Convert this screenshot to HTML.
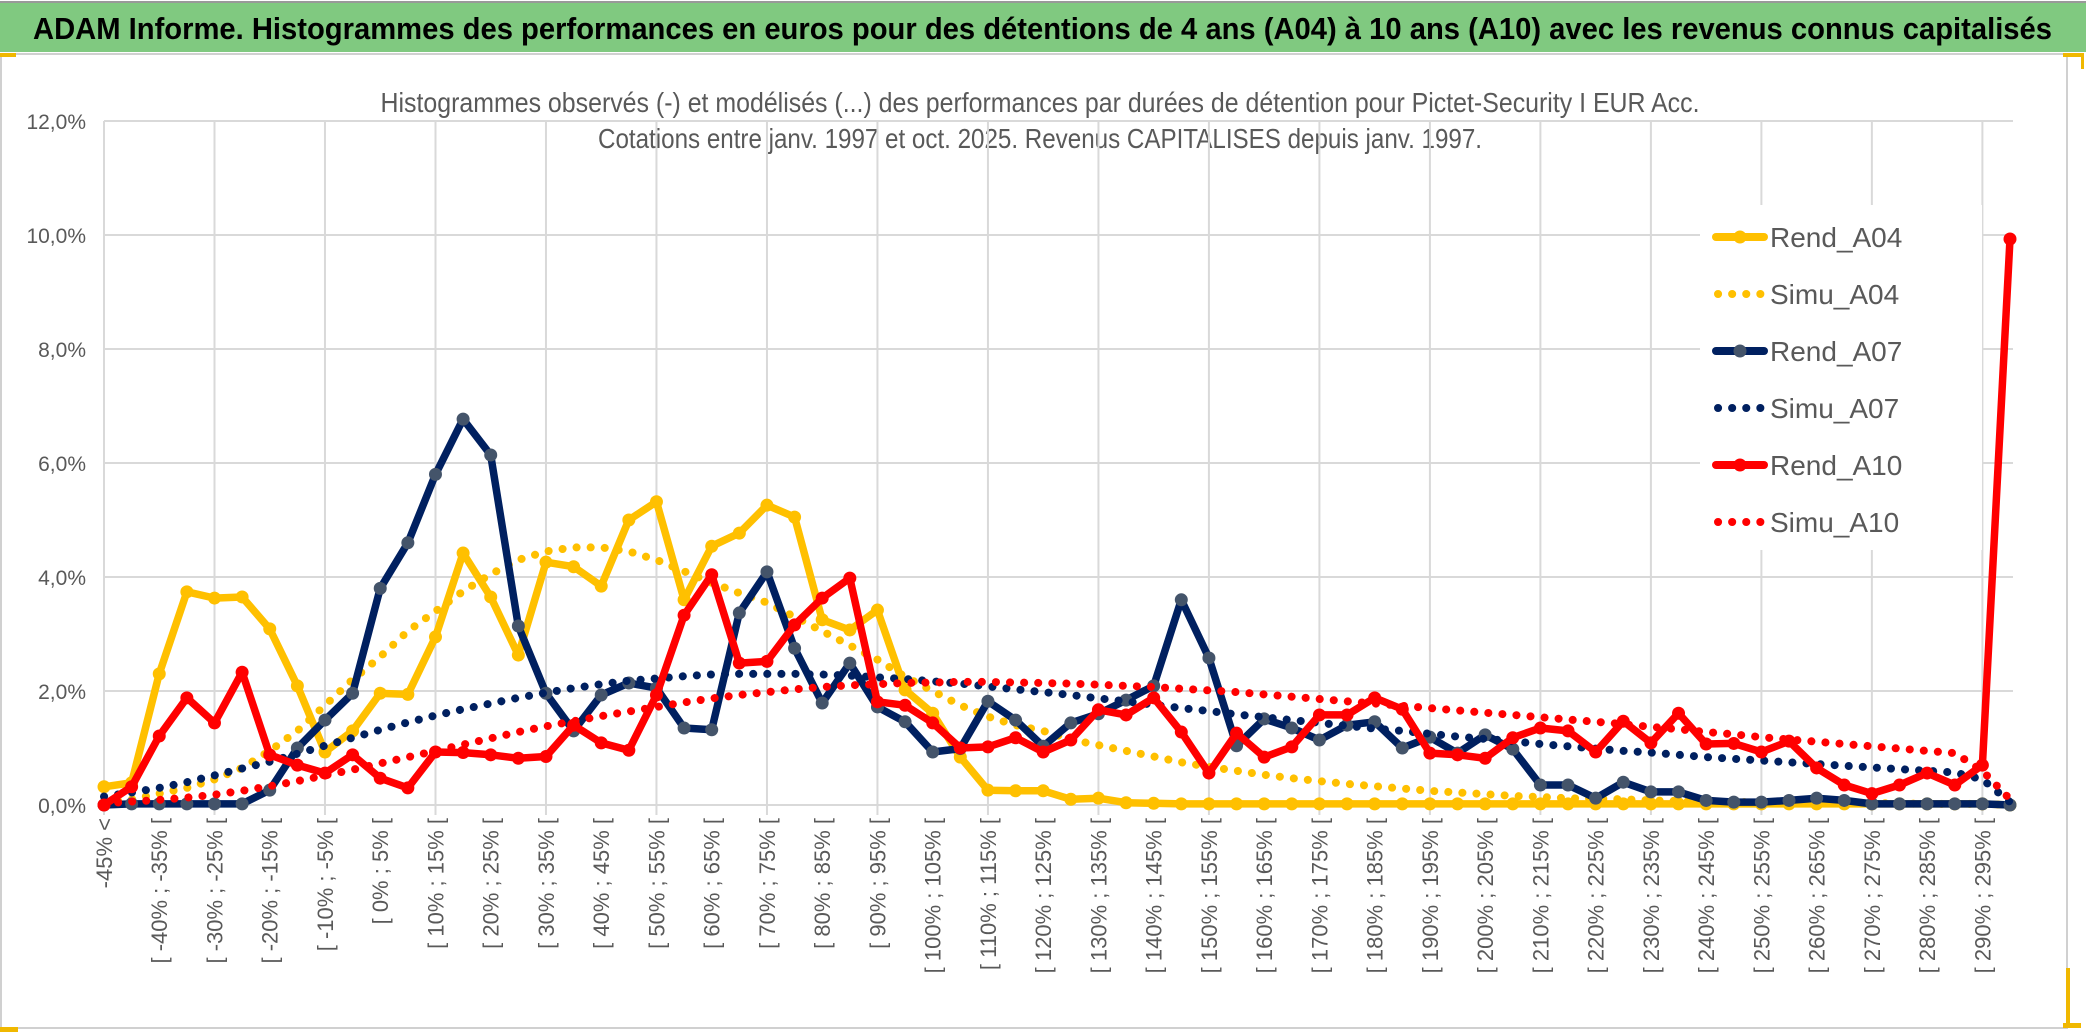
<!DOCTYPE html>
<html><head><meta charset="utf-8"><style>
html,body{margin:0;padding:0;background:#fff;}
svg{display:block;font-family:"Liberation Sans",sans-serif;}
</style></head><body>
<svg id="chart" width="2086" height="1033" viewBox="0 0 2086 1033" xmlns="http://www.w3.org/2000/svg">
<rect x="0" y="0" width="2086" height="1033" fill="#fff"/>
<rect x="0" y="3" width="2086" height="49" fill="#80C980"/>
<line x1="0" y1="2" x2="2086" y2="2" stroke="#999" stroke-width="2"/>
<text x="33" y="39" font-size="31" font-weight="bold" fill="#000" textLength="2019" lengthAdjust="spacingAndGlyphs">ADAM Informe. Histogrammes des performances en euros pour des détentions de 4 ans (A04) à 10 ans (A10) avec les revenus connus capitalisés</text>
<rect x="1" y="54" width="2066" height="974" fill="none" stroke="#d0d0d0" stroke-width="2"/>
<rect x="0" y="53" width="16" height="4" fill="#F0B800"/>
<rect x="2063" y="53" width="18" height="4" fill="#F0B800"/>
<rect x="2081" y="53" width="3" height="16" fill="#F0B800"/>
<rect x="0" y="1027" width="18" height="5" fill="#F0B800"/>
<rect x="2066" y="968" width="4" height="60" fill="#F0B800"/>
<rect x="2063" y="1023" width="18" height="5" fill="#F0B800"/>
<text x="1040" y="112" font-size="28" fill="#595959" text-anchor="middle" textLength="1319" lengthAdjust="spacingAndGlyphs">Histogrammes observés (-) et modélisés (...) des performances par durées de détention pour Pictet-Security I EUR Acc.</text>
<text x="1040" y="148" font-size="28" fill="#595959" text-anchor="middle" textLength="884" lengthAdjust="spacingAndGlyphs">Cotations entre janv. 1997 et oct. 2025. Revenus CAPITALISES depuis janv. 1997.</text>
<g id="grid"></g>
<g id="yaxis"></g>
<g id="xaxis"></g>
<g id="series"></g>
<g id="legend"></g>
</svg>
<script>
const categoriesStart = -45;
const categoriesStep = 5;
const nCategories = 70;
const yTicks = [0,2,4,6,8,10,12];
const yTickLabels = ["0,0%","2,0%","4,0%","6,0%","8,0%","10,0%","12,0%"];
const rendA04 = [0.32,0.39,2.3,3.74,3.63,3.65,3.09,2.09,0.93,1.3,1.96,1.94,2.95,4.42,3.65,2.63,4.26,4.18,3.84,5.0,5.32,3.6,4.54,4.77,5.26,5.05,3.25,3.07,3.42,2.02,1.61,0.84,0.26,0.25,0.25,0.1,0.12,0.04,0.03,0.02,0.02,0.02,0.02,0.02,0.02,0.02,0.02,0.02,0.02,0.02,0.02,0.02,0.02,0.02,0.02,0.02,0.02,0.02,0.02,0.02,0.02,0.02,0.02,0.02,0.02,0.02,0.02,0.02,0.02,0];
const simuA04 = [0.05,0.1,0.2,0.3,0.45,0.65,0.95,1.3,1.75,2.2,2.6,3.05,3.4,3.75,4.05,4.3,4.45,4.52,4.52,4.45,4.3,4.1,3.9,3.72,3.55,3.3,3.05,2.8,2.55,2.25,2.0,1.75,1.55,1.4,1.3,1.15,1.05,0.95,0.85,0.75,0.67,0.6,0.53,0.47,0.42,0.37,0.33,0.29,0.25,0.22,0.19,0.16,0.14,0.12,0.11,0.1,0.08,0.07,0.06,0.05,0.05,0.04,0.04,0.03,0.03,0.03,0.02,0.02,0.02,0];
const rendA07 = [0,0.02,0.02,0.02,0.02,0.02,0.26,1.0,1.49,1.96,3.8,4.6,5.8,6.77,6.14,3.14,1.96,1.3,1.93,2.14,2.05,1.35,1.32,3.37,4.09,2.75,1.79,2.49,1.72,1.46,0.93,0.99,1.82,1.49,1.03,1.44,1.6,1.84,2.09,3.6,2.58,1.04,1.51,1.35,1.14,1.4,1.46,1.0,1.19,0.91,1.23,0.98,0.35,0.35,0.12,0.4,0.23,0.23,0.08,0.05,0.05,0.08,0.12,0.08,0.02,0.02,0.02,0.02,0.02,0];
const simuA07 = [0.15,0.22,0.3,0.4,0.52,0.64,0.76,0.9,1.04,1.18,1.32,1.45,1.57,1.68,1.78,1.88,1.97,2.05,2.12,2.18,2.22,2.26,2.29,2.3,2.3,2.3,2.29,2.27,2.24,2.21,2.17,2.13,2.08,2.03,1.98,1.93,1.87,1.82,1.76,1.7,1.65,1.59,1.54,1.49,1.44,1.39,1.34,1.3,1.25,1.2,1.16,1.12,1.07,1.03,0.99,0.95,0.92,0.88,0.84,0.81,0.78,0.75,0.72,0.69,0.66,0.63,0.6,0.57,0.45,0.05];
const rendA10 = [0,0.32,1.21,1.88,1.44,2.33,0.88,0.7,0.56,0.88,0.47,0.3,0.93,0.92,0.88,0.82,0.85,1.4,1.09,0.96,1.93,3.33,4.04,2.49,2.52,3.16,3.63,3.98,1.81,1.75,1.44,1.0,1.02,1.18,0.93,1.14,1.67,1.58,1.88,1.28,0.56,1.26,0.84,1.02,1.58,1.58,1.88,1.68,0.91,0.88,0.82,1.18,1.35,1.3,0.93,1.47,1.09,1.61,1.07,1.08,0.93,1.12,0.65,0.35,0.2,0.35,0.56,0.35,0.7,9.93];
const simuA10 = [0.03,0.06,0.09,0.13,0.18,0.25,0.33,0.42,0.52,0.62,0.73,0.84,0.95,1.06,1.17,1.28,1.38,1.47,1.56,1.64,1.72,1.8,1.87,1.93,1.98,2.03,2.07,2.1,2.12,2.14,2.15,2.16,2.16,2.15,2.14,2.13,2.11,2.09,2.07,2.04,2.01,1.98,1.94,1.9,1.86,1.82,1.78,1.74,1.7,1.66,1.62,1.58,1.54,1.5,1.46,1.42,1.37,1.33,1.28,1.24,1.19,1.15,1.11,1.07,1.03,0.99,0.95,0.91,0.6,0.1];
const seriesNames = ["Rend_A04","Simu_A04","Rend_A07","Simu_A07","Rend_A10","Simu_A10"];

const NS = "http://www.w3.org/2000/svg";
const X0 = 104, X1 = 2010, Y0 = 805, Y12 = 121;
const step = (X1 - X0) / (nCategories - 1);
function xPos(i){ return X0 + i * step; }
function yPos(v){ return Y0 - (v / 12) * (Y0 - Y12); }
function mk(tag, attrs, parent){ const e = document.createElementNS(NS, tag); for (const k in attrs) e.setAttribute(k, attrs[k]); parent.appendChild(e); return e; }
function catLabel(i){
  if (i === 0) return categoriesStart + "% <";
  const a = categoriesStart + categoriesStep * (i - 1);
  return "[ " + a + "% ; " + (a + categoriesStep) + "% [";
}

const grid = document.getElementById('grid');
yTicks.forEach(function(t){
  const l = mk('line', {x1: X0, x2: 2013, y1: yPos(t), y2: yPos(t), stroke: '#d9d9d9', 'stroke-width': 2}, grid);
  
  
});
for (let i = 0; i < nCategories; i += 4) {
  const l = mk('line', {x1: xPos(i), x2: xPos(i), y1: Y12, y2: Y0 + 10, stroke: '#d9d9d9', 'stroke-width': 2}, grid);
  
  
}

const yaxis = document.getElementById('yaxis');
yTicks.forEach(function(t, k){
  const tx = mk('text', {x: 86, y: yPos(t) + 8, 'font-size': 21, fill: '#595959', 'text-anchor': 'end'}, yaxis);
  tx.textContent = yTickLabels[k];
  
  
});

const xaxis = document.getElementById('xaxis');
for (let i = 0; i < nCategories - 1; i += 2) {
  const x = xPos(i) + 8, y = 818;
  const tx = mk('text', {x: x, y: y, 'font-size': 22, fill: '#595959', 'text-anchor': 'end', transform: 'rotate(-90 ' + x + ' ' + y + ')'}, xaxis);
  tx.textContent = catLabel(i);
  
  
}

const seriesG = document.getElementById('series');
function drawRend(vals, color, mcolor, name){
  const g = mk('g', {}, seriesG);
  
  
  const pts = vals.map(function(v, i){ return xPos(i).toFixed(1) + ',' + yPos(v).toFixed(1); }).join(' ');
  const pl = mk('polyline', {points: pts, fill: 'none', stroke: color, 'stroke-width': 7.5, 'stroke-linejoin': 'round', 'stroke-linecap': 'round'}, g);
  
  
  vals.forEach(function(v, i){
    const c = mk('circle', {cx: xPos(i), cy: yPos(v), r: 6.5, fill: mcolor}, g);
    
    
  });
}
function drawSimu(vals, color, name){
  const pts = vals.map(function(v, i){ return xPos(i).toFixed(1) + ',' + yPos(v).toFixed(1); }).join(' ');
  const pl = mk('polyline', {points: pts, fill: 'none', stroke: color, 'stroke-width': 8, 'stroke-linecap': 'round', 'stroke-dasharray': '0.1 14'}, seriesG);
  
  
}
drawRend(rendA04, '#FFC000', '#FFC000', 'rend-a04');
drawSimu(simuA04, '#FFC000', 'simu-a04');
drawRend(rendA07, '#002060', '#44546A', 'rend-a07');
drawSimu(simuA07, '#002060', 'simu-a07');
drawRend(rendA10, '#FF0000', '#FF0000', 'rend-a10');
drawSimu(simuA10, '#FF0000', 'simu-a10');

const legend = document.getElementById('legend');
const lbg = mk('rect', {x: 1700, y: 205, width: 282, height: 345, fill: '#fff'}, legend);


const legColors = ['#FFC000','#FFC000','#002060','#002060','#FF0000','#FF0000'];
const legMarker = ['#FFC000','#FFC000','#44546A','#44546A','#FF0000','#FF0000'];
seriesNames.forEach(function(nm, k){
  const y = 237 + k * 57;
  const dotted = k % 2 === 1;
  const g = mk('g', {}, legend);
  
  
  if (dotted) {
    mk('line', {x1: 1718, x2: 1762, y1: y, y2: y, stroke: legColors[k], 'stroke-width': 8, 'stroke-linecap': 'round', 'stroke-dasharray': '0.1 14'}, g);
  } else {
    mk('line', {x1: 1716, x2: 1764, y1: y, y2: y, stroke: legColors[k], 'stroke-width': 8, 'stroke-linecap': 'round'}, g);
    mk('circle', {cx: 1740, cy: y, r: 6.5, fill: legMarker[k]}, g);
  }
  const t = mk('text', {x: 1770, y: y + 10, 'font-size': 28, fill: '#595959'}, g);
  t.textContent = nm;
});
</script>
</body></html>
